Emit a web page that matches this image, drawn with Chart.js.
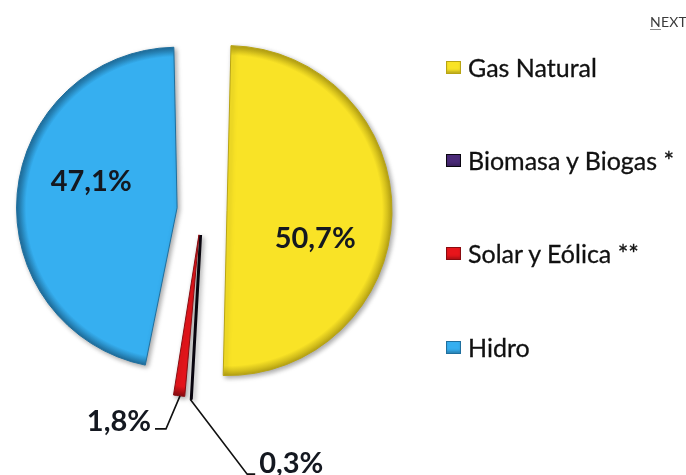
<!DOCTYPE html>
<html>
<head>
<meta charset="utf-8">
<script src="https://cdn.jsdelivr.net/npm/chart.js@4.4.0/dist/chart.umd.min.js"></script>
<style>
  html, body { margin: 0; padding: 0; background: #ffffff; }
  body { width: 686px; height: 475px; overflow: hidden; position: relative; font-family: Lato, "Open Sans", sans-serif; }
  #pie { position: absolute; left: 0; top: 0; }
  .legend { position: absolute; left: 446px; top: 0; }
  .item { position: absolute; left: 0; height: 30px; display: flex; align-items: center; white-space: nowrap; font-size: 25px; color: #111111; -webkit-text-stroke: 0.3px #111111; }
  .sw { width: 15px; height: 13px; margin-right: 7px; box-sizing: border-box; }
  .next { position: absolute; left: 650px; top: 13px; font-size: 14px; color: #3a3a3a; letter-spacing: 0.2px; }
  .next .u { position: absolute; left: 0; top: 16px; width: 11px; height: 1px; background: #8a8a8a; }
</style>
</head>
<body>
<canvas id="pie" width="686" height="475"></canvas>
<div class="legend" id="legend"></div>
<div class="next">NEXT<span class="u"></span></div>
<script>
// Electricity generation mix (% share)
const sources = ['Gas Natural', 'Biomasa y Biogas *', 'Solar y Eólica **', 'Hidro'];
const shares  = [50.7, 0.3, 1.8, 47.1];

// Slice colours and darker edge tones
const fills = ['#f9e326', '#4a2a78', '#e8151b', '#36aff0'];
const edges = ['#b8a414', '#0a0610', '#8a0b10', '#1f6f9e'];

// Where each percentage label sits: inside the slice or on a leader line
const labelPlacement = [
  { mode: 'inside', dist: 0.56, turn: 0.28 },
  { mode: 'leader', along: 0.85, elbow: [57, 75], tail: 8, textDy: -11 },
  { mode: 'leader', along: 0.45, elbow: [-14, 33], tail: -11, textDy: -7 },
  { mode: 'inside', dist: 0.56, turn: 0.21 }
];

const pieRadius = 140;
const explode = 100; // Chart.js moves a slice out by offset / 4

const fmt = v => v.toFixed(1).replace('.', ',') + '%';

// Legend
const legend = document.getElementById('legend');
const legendY = [52, 145, 238, 332];
sources.forEach((name, i) => {
  const it = document.createElement('div');
  it.className = 'item';
  it.style.top = legendY[i] + 'px';
  const sw = document.createElement('span');
  sw.className = 'sw';
  sw.style.background = fills[i];
  sw.style.boxShadow = 'inset 0 0 0 1px ' + edges[i] + ', inset 0 -3px 3px rgba(0,0,0,0.25)';
  it.appendChild(sw);
  it.appendChild(document.createTextNode(name));
  legend.appendChild(it);
});

// Slice fill with a darker rim toward the outer edge
function rimFill(c) {
  const chart = c.chart;
  const area = chart.chartArea;
  const i = c.dataIndex;
  if (!area) return fills[i];
  const total = shares.reduce((s, v) => s + v, 0);
  const span = shares[i] / total * Math.PI * 2;
  const R = pieRadius + explode / 4 * (1 - Math.sin(Math.min(Math.PI, span)));
  const cx = (area.left + area.right) / 2;
  const cy = (area.top + area.bottom) / 2;
  const g = chart.ctx.createRadialGradient(cx, cy, 0, cx, cy, R);
  g.addColorStop(0, fills[i]);
  g.addColorStop(0.94, fills[i]);
  g.addColorStop(1, edges[i]);
  return g;
}

// Drop shadow for the slices, then the percentage labels
const pieDecor = {
  id: 'pieDecor',
  beforeDatasetsDraw(chart) {
    const ctx = chart.ctx;
    ctx.save();
    ctx.shadowColor = 'rgba(0,0,0,0.35)';
    ctx.shadowBlur = 5;
    ctx.shadowOffsetX = 2;
    ctx.shadowOffsetY = 2;
  },
  afterDatasetsDraw(chart) {
    const ctx = chart.ctx;
    ctx.restore();
    const meta = chart.getDatasetMeta(0);
    const values = chart.data.datasets[0].data;
    ctx.save();
    ctx.fillStyle = '#141820';
    ctx.strokeStyle = '#111';
    ctx.lineWidth = 1.6;
    ctx.font = 'bold 29px Lato, "Open Sans", sans-serif';
    ctx.textBaseline = 'middle';
    meta.data.forEach((arc, i) => {
      const p = arc.getProps(['x', 'y', 'startAngle', 'endAngle', 'outerRadius'], true);
      const shift = (arc.options.offset || 0) / 4;
      const span = p.endAngle - p.startAngle;
      const mid = (p.startAngle + p.endAngle) / 2;
      const cx = p.x + Math.cos(mid) * shift;
      const cy = p.y + Math.sin(mid) * shift;
      const R = p.outerRadius + shift * (1 - Math.sin(Math.min(Math.PI, span)));
      const pl = labelPlacement[i];
      const text = fmt(values[i]);
      if (pl.mode === 'inside') {
        const a = mid + pl.turn;
        ctx.textAlign = 'center';
        ctx.fillText(text, cx + Math.cos(a) * R * pl.dist, cy + Math.sin(a) * R * pl.dist);
      } else {
        const a = p.startAngle + span * pl.along;
        const ax = cx + Math.cos(a) * R;
        const ay = cy + Math.sin(a) * R;
        const ex = ax + pl.elbow[0], ey = ay + pl.elbow[1];
        const tx = ex + pl.tail;
        ctx.beginPath();
        ctx.moveTo(ax, ay);
        ctx.lineTo(ex, ey);
        ctx.lineTo(tx, ey);
        ctx.stroke();
        if (pl.tail >= 0) {
          ctx.textAlign = 'left';
          ctx.fillText(text, tx + 4, ey + pl.textDy);
        } else {
          ctx.textAlign = 'right';
          ctx.fillText(text, tx - 4, ey + pl.textDy);
        }
      }
    });
    ctx.restore();
  }
};

new Chart(document.getElementById('pie'), {
  type: 'pie',
  data: {
    labels: sources,
    datasets: [{
      data: shares,
      backgroundColor: rimFill,
      borderColor: edges,
      borderWidth: [1, 3, 1, 1],
      offset: explode
    }]
  },
  options: {
    responsive: false,
    animation: false,
    devicePixelRatio: 1,
    radius: pieRadius,
    layout: { padding: { left: 0, right: 282, top: 0, bottom: 55 } },
    plugins: {
      legend: { display: false },
      tooltip: { enabled: false }
    },
    events: []
  },
  plugins: [pieDecor]
});
</script>
</body>
</html>
